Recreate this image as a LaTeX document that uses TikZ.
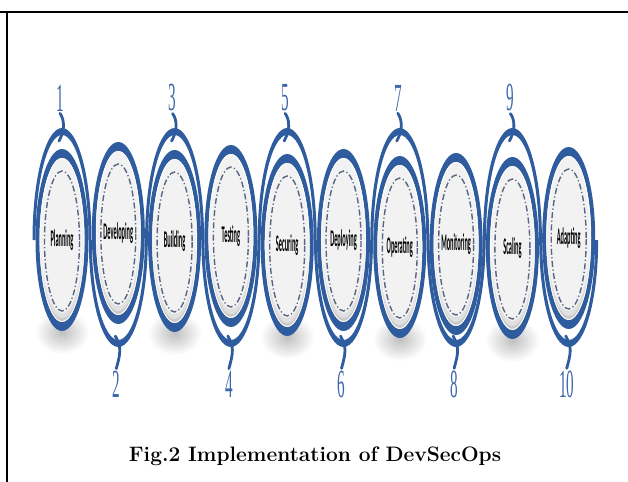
\documentclass[tikz,border=0pt]{standalone}
\usepackage{fontspec}
\usepackage{graphicx}
\newfontfamily\labelfont{Carlito}
\newfontfamily\numfont{Liberation Serif}

\definecolor{ringblue}{RGB}{46,92,158}
\definecolor{numblue}{RGB}{62,104,170}
\definecolor{dashgray}{RGB}{88,102,130}
\definecolor{panelgray}{RGB}{242,242,242}

\tikzset{
  frameline/.style={line width=1.8bp, black},
  hook/.style={ringblue, line width=2.8bp, line cap=round, line join=round},
  steplabel/.style={font=\labelfont\bfseries\fontsize{24}{24}\selectfont, inner sep=0pt},
  stepnum/.style={numblue, font=\numfont\fontsize{40}{40}\selectfont, inner sep=0pt},
  dashring/.style={dashgray, line width=1.4bp, dash pattern=on 6bp off 2.5bp on 1.2bp off 2.5bp},
}

\begin{document}
\begin{tikzpicture}[x=1bp, y=-1bp]
\useasboundingbox (0,0) rectangle (628,482);
\fill[white] (0,0) rectangle (628,482);

% page frame
\draw[frameline] (0,12) -- (628,12);
\draw[frameline] (7.3,12) -- (7.3,482);

% the ten steps: number / label / ring centre
\foreach \i/\lab/\cy in {1/Planning/240, 2/Developing/233, 3/Building/241,
    4/Testing/236, 5/Securing/245, 6/Deploying/240, 7/Operating/247,
    8/Monitoring/244, 9/Scaling/248, 10/Adapting/238} {
  \pgfmathsetmacro\cx{62+56.3*(\i-1)}
  \pgfmathtruncatemacro\odd{mod(\i,2)}
  % soft shadow below the steps numbered on top
  \ifnum\odd=1
    \shade[inner color=gray!50, outer color=white] (\cx,\cy+92) ellipse[x radius=27, y radius=22];
  \fi
  % wave band: over the top for odd steps, under the bottom for even ones
  \ifnum\odd=1
    \fill[ringblue] (\cx-29.5,240) arc[start angle=180, end angle=360, x radius=29.5, y radius=112]
      -- (\cx+26.5,240) arc[start angle=360, end angle=180, x radius=26.5, y radius=105] -- cycle;
  \else
    \fill[ringblue] (\cx-29.5,240) arc[start angle=180, end angle=0, x radius=29.5, y radius=107]
      -- (\cx+26.5,240) arc[start angle=0, end angle=180, x radius=26.5, y radius=100] -- cycle;
  \fi
  % ring
  \fill[ringblue, even odd rule] (\cx,\cy) ellipse[x radius=26.5, y radius=91]
    (\cx,\cy) ellipse[x radius=22.5, y radius=82];
  % inner panel with a shaded lower edge
  \fill[gray!42] (\cx,\cy) ellipse[x radius=22.5, y radius=82];
  \fill[gray!24] (\cx,\cy-2) ellipse[x radius=22, y radius=80];
  \fill[panelgray] (\cx,\cy-4) ellipse[x radius=21.5, y radius=77];
  \draw[white, line width=0.8bp] (\cx,\cy) ellipse[x radius=21.9, y radius=81.4];
  \draw[dashring] (\cx,\cy+1) ellipse[x radius=17.5, y radius=70];
  % label
  \node[steplabel] (u\i) at (\cx,\cy) {\scalebox{0.265}[1]{\lab}};
  % number and its hook into the wave
  \ifnum\odd=1
    \node[stepnum] (n\i) at (\cx-2,98) {\scalebox{0.38}[1]{\i}};
    \draw[hook] ([yshift=-2bp]n\i.south) .. controls (\cx+0.5,117) and (\cx+1.5,121) .. (\cx+1.5,126)
      .. controls (\cx+1.5,132) and (\cx-1,137) .. (\cx-3,141);
  \else
    \node[stepnum] (n\i) at (\cx-2,384) {\scalebox{0.38}[1]{\i}};
    \draw[hook] (\cx-3,336) .. controls (\cx-1,340) and (\cx+1.5,344) .. (\cx+1.5,350)
      .. controls (\cx+1.5,356) and (\cx,361) .. ([yshift=2bp]n\i.north);
  \fi
}

% caption
\node[font=\bfseries\fontsize{21}{21}\selectfont, inner sep=0pt] (cap) at (315,456)
  {Fig.2 Implementation of DevSecOps};
\end{tikzpicture}
\end{document}
